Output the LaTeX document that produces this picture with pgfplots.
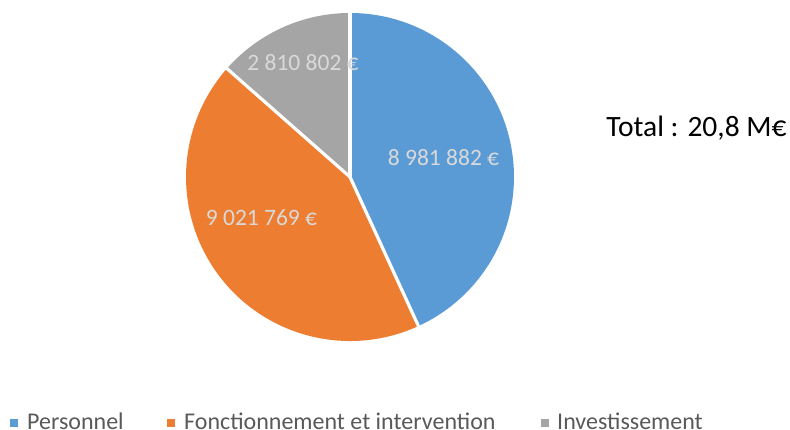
\documentclass[border=0pt]{standalone}
\usepackage{pgfplots}
\usepackage{pgfplotstable}
\pgfplotsset{compat=1.18}
\usepackage{fontspec}
\setmainfont{Carlito}
\definecolor{cBlue}{HTML}{5B9BD5}
\definecolor{cOrange}{HTML}{ED7D31}
\definecolor{cGray}{HTML}{A5A5A5}
\definecolor{cLabel}{HTML}{D9D9D9}
\definecolor{cText}{HTML}{595959}

\pgfplotstableread[col sep=comma]{
name,value
Personnel,8981882
Fonctionnement,9021769
Investissement,2810802
}\pietable

\pgfplotstablegetelem{0}{value}\of\pietable\edef\vA{\pgfplotsretval}
\pgfplotstablegetelem{1}{value}\of\pietable\edef\vB{\pgfplotsretval}
\pgfplotstablegetelem{2}{value}\of\pietable\edef\vC{\pgfplotsretval}
\edef\aA{\fpeval{90-360*\vA/(\vA+\vB+\vC)}}
\edef\aB{\fpeval{\aA-360*\vB/(\vA+\vB+\vC)}}

\begin{document}
\begin{tikzpicture}
\useasboundingbox (0,0) rectangle (790pt,430pt);
\clip (0,0) rectangle (790pt,430pt);
\begin{axis}[
  x=1pt, y=1pt,
  xmin=-200, xmax=200, ymin=-200, ymax=200,
  hide axis,
  anchor=origin, at={(350pt,253pt)},
  clip=false,
]
\fill[cBlue] (axis cs:0,0) -- ++(90:164pt) arc[start angle=90, end angle=\aA, radius=164pt] -- cycle;
\fill[cOrange] (axis cs:0,0) -- ++(\aA:164pt) arc[start angle=\aA, end angle=\aB, radius=164pt] -- cycle;
\fill[cGray] (axis cs:0,0) -- ++(\aB:164pt) arc[start angle=\aB, end angle=-270, radius=164pt] -- cycle;
\draw[white, line width=3.2pt] (axis cs:0,0) -- ++(90:166pt);
\draw[white, line width=3.2pt] (axis cs:0,0) -- ++(\aA:166pt);
\draw[white, line width=3.2pt] (axis cs:0,0) -- ++(\aB:166pt);
\node[text=cLabel, font=\fontsize{23.5}{27}\selectfont, inner sep=0] at (axis cs:93.5,19) {8 981 882 €};
\node[text=cLabel, font=\fontsize{23.5}{27}\selectfont, inner sep=0] at (axis cs:-88.5,-41) {9 021 769 €};
\node[text=cLabel, font=\fontsize{23.5}{27}\selectfont, inner sep=0] at (axis cs:-47,114) {2 810 802 €};
\end{axis}
\node[text=black, font=\fontsize{29.5}{34}\selectfont, inner sep=0] at (696.5pt,302pt) {Total : 20,8 M€};
\fill[cBlue] (10pt,3pt) rectangle (18pt,11pt);
\node[text=cText, font=\fontsize{24}{28}\selectfont, inner sep=0, anchor=base west] at (27pt,0pt) {Personnel};
\fill[cOrange] (167pt,3pt) rectangle (175pt,11pt);
\node[text=cText, font=\fontsize{24}{28}\selectfont, inner sep=0, anchor=base west] at (184pt,0pt) {Fonctionnement et intervention};
\fill[cGray] (541pt,3pt) rectangle (549pt,11pt);
\node[text=cText, font=\fontsize{24}{28}\selectfont, inner sep=0, anchor=base west] at (557pt,0pt) {Investissement};
\end{tikzpicture}
\end{document}
